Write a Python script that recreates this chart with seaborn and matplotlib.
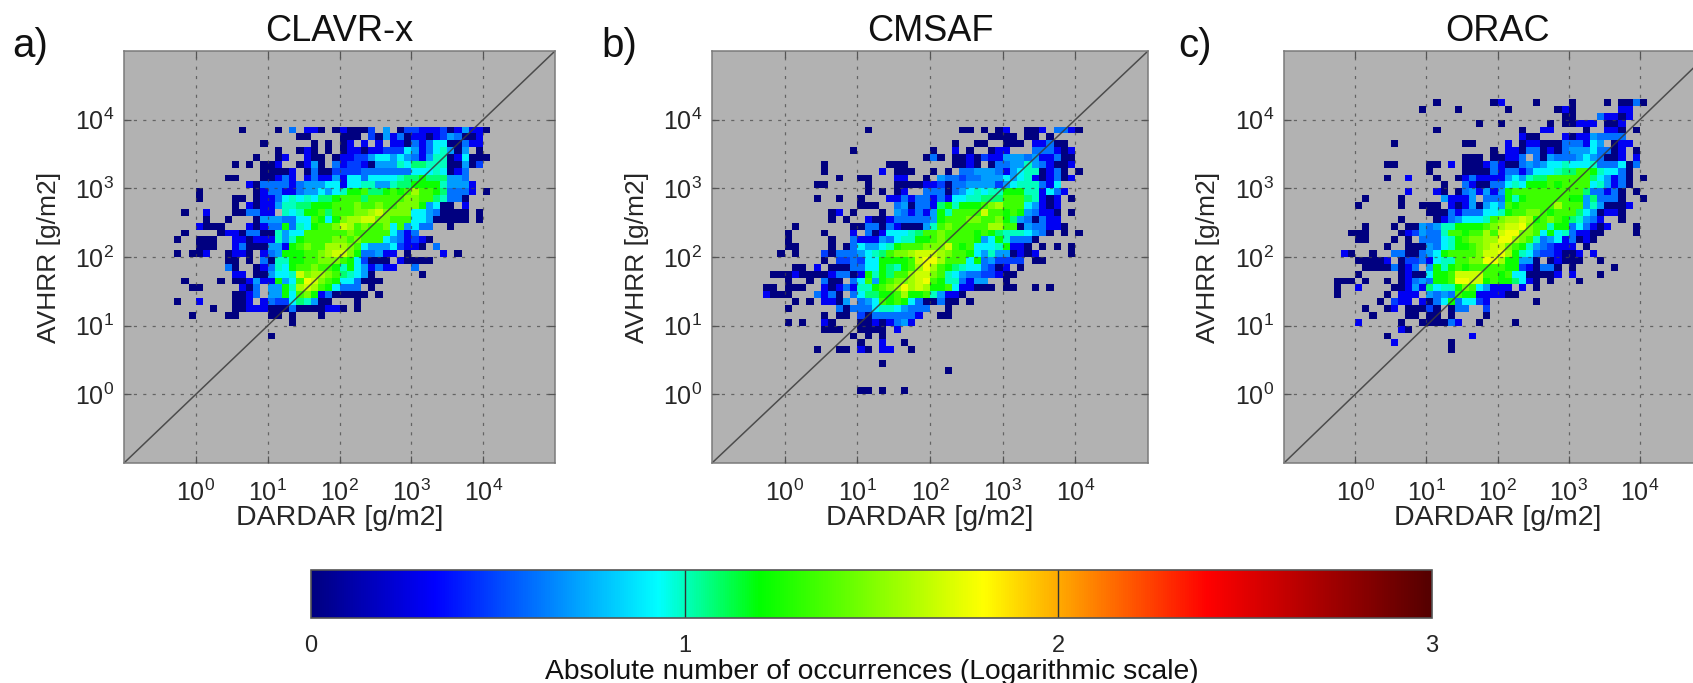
from __future__ import annotations

import numpy as np
import pandas as pd
import matplotlib
matplotlib.use('Agg')
import matplotlib.pyplot as plt
from matplotlib.cm import ScalarMappable
from matplotlib.colors import LinearSegmentedColormap, Normalize
import seaborn as sns

# histogram cells. Each string is one y bin (top to bottom),
# grouped per decade of x bins (10 bins per decade), '.' means no occurrences.
LEVEL_COUNTS = {'1': 1, '2': 2, '3': 3, '4': 4, '5': 5, '6': 6, '7': 8, '8': 10, '9': 12,
                'g': 17, 'h': 22, 'i': 30, 'j': 38, 'k': 48, 'l': 58, 'm': 62}
N_BINS = 60

CLAVRX_TOP_BIN = 11
CLAVRX_ROWS = [
    ". ......1 .1.4.221.1 21113.5.13 3222312522 1",
    ". . ....11 111.315241 2212354112",
    ". .........1 ......1.1. 12.2.2.221 4247711422",
    ". . .1..121.1. 1221223337 52478515.1",
    ". ........1. .12..211.1 2233577575 4258812711 1",
    ". .....1.1.1 12..1251.4 2332155587 9988811513",
    ". .........1 1112.14113 3334444444 77787124",
    ". ....11...1 1242.24225 2774777789 9g999554",
    ". .......214 4442455577 2778855899 gggg85552",
    ". 1.......12 4422455757 8ggh99ghgh jhhg94442. 1",
    ". 1....11.12 247878799g hhh9hhhhhi ihh98441",
    ". .....1.212 258899gggh hhihhihhii ig5711.2",
    "........1. .2...11442 2.878ggh9h hhiijkiiii 77541111.1",
    ". .1..1...15 554477hg7g ijjkkiihhh 77511111.1",
    ". 2111...212 44g487ghhi kjhihhi7h5 744..1",
    "........1. ...1221441 18577hhhhh hihhhhh742 4",
    ".......1 111..22122 2858ghhhhi ihihhh7542 321",
    ". 111..24111 552ghihhjj jih7555732 21.4",
    ".......1.1 12..1221.2 45ggghhijk kig44522.1 ....2.1",
    ". ....11.1.4 188gghhiii hg73111.21 111",
    ". ....41..12 487ghhihhg 8g752422.. 4",
    ". .....22.11 5778kijjih 98751 .1",
    "........1. ...1.11252 2g57hlkihg 774111",
    ".........1 1.....214. 55g8jkjhg7 444.1",
    ". .....1124. 55g7hig241 1111.1",
    ".......1 2....112.2 433798511. ..1",
    ". ..1..11222 1114111122 1.1",
    ".........1 ....11 11.1...1",
    ". . ...1",
    "",
    ". . 1",
]

CMSAF_TOP_BIN = 11
CMSAF_ROWS = [
    ". . .1 ....11.1.1 2..112.442 1",
    ". . . ........11 11.11.1",
    ". . . ...1..11 111.22411",
    ". .........1 . 1..2.1..12 2...444212",
    ". . .........1 41.1121322 5554522411",
    ". .....1 ....111 ...1121.14 4558542112",
    ". .....1 ...2.111 1.1.445554 257881241. 1",
    ". .......1 11...22..1 .544344555 7578212412",
    ". ....11 .1...11112 2314455553 57888427",
    ". . .1.1.12..4 4414578788 ggg882742",
    ". ....1..1 1...224244 2427788999 hhh98212.1",
    ". . 111..45144 29g8ggghij hhh75212",
    ". ......12.1 ...1.54242 5g8hhhhkhh ghg54221.1",
    ". ......1.1 .211244444 5ghhhiihhi g9541422",
    ". .1.......1 1441421115 8hihhhhhjj hh1544221",
    ". 1....1...2 .41277789h hihhhhghg9 8887541.1. 1",
    ". 1.....1..4 22254788gg hihhhhg57g 84441",
    ". 11....1.14 75578ghhhi iikhgh7778 g221.1.1.1",
    ".........1 .1...31444 5789hiijkk kjihhg7585 51212....1",
    ". .....1.334 377gggghkl ljhhh7g453 333.11",
    ". .11.2.1114 477g98ghjl jhg9877431 2.1",
    "........11 1211112441 2g8g9hhjkk ih87544332 11",
    ". 1..1.411.4 7h5ghiijkl hg884255 1",
    ".......11. 111..21242 88ghijljkj ggh722111. 11..1.1",
    ".......211 1...4241.4 799gghjggh 85221",
    ". .1.1.2215. 457hghg741 1411.1",
    ". 1......414 4478875444 ..1",
    ". .....1.11. 314444442. .11",
    ". 1.1..21 11212452",
    ". .....111 1111.2",
    ". .........1 .1.1",
    ". . 1..2..1",
    ". ....1..11. 21.22..1",
    "",
    ". . ...1",
    ". . . ..1",
    "",
    "",
    ". . 11.1..1",
]

ORAC_TOP_BIN = 7
ORAC_ROWS = [
    ". . .1.......1 2....1 1....1.114 1",
    ". .........1 ....1 .1......12 1......22",
    ". . . .........1 1...42212",
    ". . .......1 1......1.1 1222.112",
    ". . .1 ...1..22 ..1..221.1",
    ". . . ...211...2 12254444",
    ". .....1 .....11 .2.1221114 44275.122",
    ". . .........1 .221441214 55574412.1",
    ". . .....111.1 1224.41544 45754112.2",
    ". ....11 11.2.11124 2114545778 7778444714",
    ". . 1....11114 2442477789 9hhg87741",
    ". ....1..2 .1..124222 2575899hhh hhh975241 1",
    ". . ..1..42114 4787ggghgh hhh785241",
    ". .......2 .21.145252 5ghhhhhhhh hh944241.1",
    ". .1....1 ..52225.44 4g8ghhhhhh gg594441 1",
    ". 1.....1..1 11.2125157 5hghhhhhjh hh5851112",
    ". . 1114244477 8ghhiihghh h9751221",
    ". ......1 .12457778h ijjkjghihg 98542..1",
    ". .1...1.115 4588gggghi jkklihh8gg 474212...1",
    ".........1 11....1235 448hhghhjh klliih7g78 42211....1",
    ". 11...1.1.4 4478ghiijj lljih84572 4121",
    ". ....1..111 5478gghijk kihg854322 2.1",
    "........21 ..1..44114 57ghhhhikk ljg8743321 12.2",
    ". 11112.1334 2788hhiill jgg551.121 11..1",
    ". .11114124. 5g8ghghhhh hgg321441. 1.....1",
    ". 1.....1211 7gghkkkkhh gh7711112. 2...1",
    ".......111 .1..1.1245 4gghllkkgh gg9721.1 .1",
    ".......1 2....11252 9788gih752 22.2.1",
    ".......1 ....1.222. 5454hgg222 211",
    ". ...1.322.2 147g47732. .....1",
    ". .1..12.111 31.144..3.",
    ". ..1....11. 11.1....1.",
    ". 2.....1..1 11142..1.. ..1",
    ". ......21",
    ". ....1 ......2",
    ". .....2 ...1",
    ". . ...1",
]

PANEL_TITLES = ['CLAVR-x', 'CMSAF', 'ORAC']
PANEL_LETTERS = ['a)', 'b)', 'c)']
DECADE_BINS = [10, 20, 30, 40, 50]
DECADE_LABELS = ['$10^{0}$', '$10^{1}$', '$10^{2}$', '$10^{3}$', '$10^{4}$']
CBAR_TICKS = [0, 1, 2, 3]

FIG_W, FIG_H = 1693, 683

sns.set_theme(style='white')
plt.rcParams['font.family'] = ['Liberation Sans', 'DejaVu Sans']
plt.rcParams['mathtext.fontset'] = 'custom'
plt.rcParams['mathtext.rm'] = 'Liberation Sans'
plt.rcParams['mathtext.default'] = 'regular'
plt.rcParams['text.color'] = '#111111'


def rows_to_frame(rows, top_bin):
    grid = np.full((N_BINS, N_BINS), np.nan)
    for offset, row in enumerate(rows):
        cells = ''.join(group.ljust(10, '.') for group in row.split())
        for col, cell in enumerate(cells):
            if cell != '.':
                grid[top_bin + offset, col] = np.log10(LEVEL_COUNTS[cell])
    return pd.DataFrame(grid)


def px_axes(fig, left, right, top, bottom):
    return fig.add_axes([left / FIG_W, 1 - bottom / FIG_H, (right - left) / FIG_W, (bottom - top) / FIG_H])


def main():
    # the colour bar has its own stops, not matplotlib's jet
    occurrences = LinearSegmentedColormap.from_list('occurrences', [
        (0.0, (0, 0, 0.5)), (0.11, (0, 0, 1)), (0.31, (0, 1, 1)), (0.40, (0, 1, 0)),
        (0.60, (1, 1, 0)), (0.80, (1, 0, 0)), (1.0, (0.33, 0, 0)),
    ], N=512)

    fig = plt.figure(figsize=(FIG_W / 100, FIG_H / 100), dpi=100)

    frames = [rows_to_frame(CLAVRX_ROWS, CLAVRX_TOP_BIN),
              rows_to_frame(CMSAF_ROWS, CMSAF_TOP_BIN),
              rows_to_frame(ORAC_ROWS, ORAC_TOP_BIN)]
    # last panel runs past the right edge of the figure, as in the original
    spans = [(124, 555), (712, 1148), (1284, 1711)]
    ylabel_x = [49, 637, 1208]
    letter_x = [12, 601, 1178]

    for i, frame in enumerate(frames):
        left, right = spans[i]
        ax = px_axes(fig, left, right, 51, 463)
        sns.heatmap(frame, ax=ax, cmap=occurrences, vmin=0, vmax=3, cbar=False,
                    xticklabels=False, yticklabels=False)
        ax.set_facecolor('#b2b2b2')
        ax.plot([0, N_BINS], [N_BINS, 0], color='#3a3a3a', lw=1.1, alpha=0.85)

        ax.set_xticks(DECADE_BINS, DECADE_LABELS)
        ax.set_yticks(DECADE_BINS, DECADE_LABELS[::-1])
        ax.set_axisbelow(False)
        ax.grid(True, color='#444444', lw=0.9, linestyle=(0, (2.5, 5)), alpha=0.7)
        ax.tick_params(axis='x', direction='in', top=True, bottom=True, length=5, width=0.9,
                       color='#555555', labelsize=18, pad=12)
        ax.tick_params(axis='y', direction='in', left=True, right=True, length=5, width=0.9,
                       color='#555555', labelsize=18, pad=7)
        for spine in ax.spines.values():
            spine.set_visible(True)
            spine.set_color('#7a7a7a')
            spine.set_linewidth(1.1)

        ax.set_title(PANEL_TITLES[i], fontsize=26, pad=7)
        ax.set_xlabel('DARDAR [g/m2]', fontsize=20.5, va='center')
        ax.xaxis.set_label_coords(0.5, (463 - 518) / 412)
        ax.set_ylabel('AVHRR [g/m2]', fontsize=19, va='center')
        ax.yaxis.set_label_coords((ylabel_x[i] - left) / (right - left), 0.5)
        fig.text(letter_x[i] / FIG_W, 1 - 57 / FIG_H, PANEL_LETTERS[i], fontsize=29, ha='left', va='baseline')

    cax = px_axes(fig, 311, 1432, 570, 618)
    cbar = fig.colorbar(ScalarMappable(Normalize(0, 3), occurrences), cax=cax, orientation='horizontal')
    cbar.set_ticks(CBAR_TICKS)
    cbar.ax.tick_params(length=0, labelsize=17, pad=12)
    for value in CBAR_TICKS[1:3]:
        cax.axvline(value, color='#333333', lw=1)
    cbar.outline.set_edgecolor('#555555')
    cbar.outline.set_linewidth(1.2)
    fig.text(0.5 * (311 + 1432) / FIG_W, 1 - 672 / FIG_H, 'Absolute number of occurrences (Logarithmic scale)',
             fontsize=20.3, ha='center', va='center')

    fig.savefig('out.png', dpi=100)
    plt.close(fig)


if __name__ == '__main__':
    main()
